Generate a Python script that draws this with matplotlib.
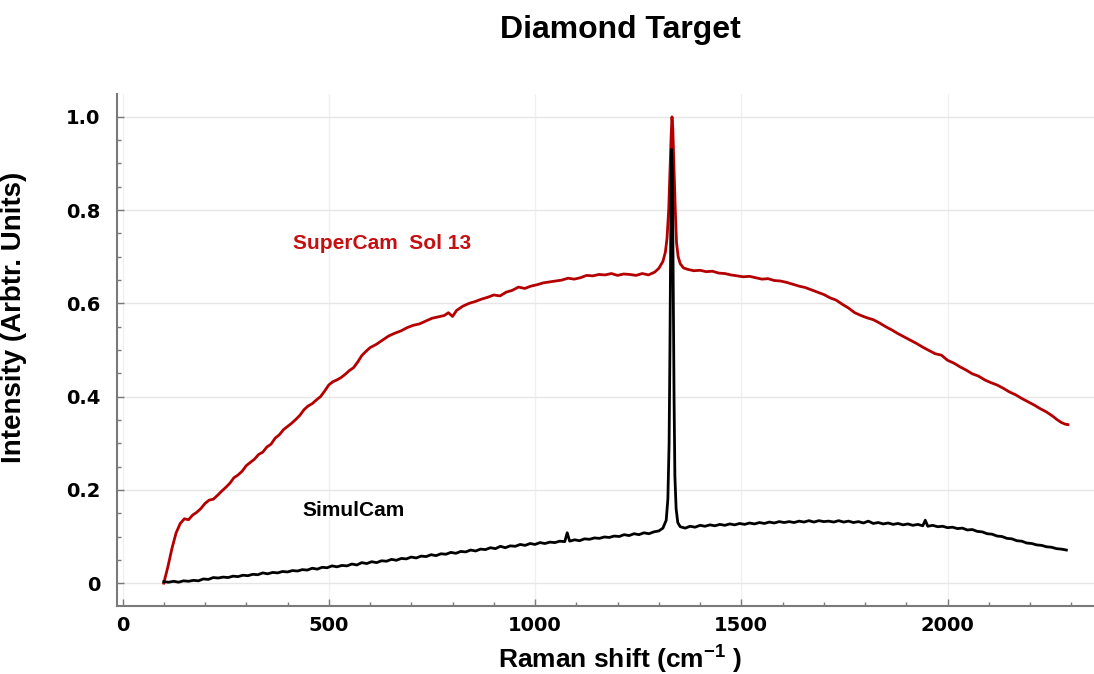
import matplotlib
matplotlib.use("Agg")
import matplotlib.pyplot as plt
from matplotlib.ticker import MultipleLocator

plt.rcParams['font.family'] = ['Liberation Sans', 'DejaVu Sans']
plt.rcParams['mathtext.fontset'] = 'custom'
plt.rcParams['mathtext.rm'] = 'Liberation Sans:bold'
plt.rcParams['mathtext.bf'] = 'Liberation Sans:bold'

# SuperCam Sol 13 spectrum (red)
supercam_x = [100, 110, 120, 130, 140, 150, 160, 170, 180, 190, 200, 210, 220, 230, 240,
              250, 260, 270, 280, 290, 300, 310, 320, 330, 340, 350, 360, 370, 380, 390,
              400, 410, 420, 430, 440, 450, 460, 470, 480, 490, 500, 510, 520, 530, 540,
              550, 560, 570, 580, 590, 600, 615, 630, 645, 660, 675, 690, 705, 720, 735,
              750, 765, 780, 790, 800, 810, 825, 840, 855, 870, 885, 900, 915, 930, 945,
              960, 975, 990, 1005, 1020, 1035, 1050, 1065, 1080, 1095, 1110, 1125, 1140,
              1155, 1170, 1185, 1200, 1215, 1230, 1245, 1260, 1275, 1290, 1300, 1310,
              1316, 1320, 1324, 1327, 1330, 1332, 1334, 1337, 1340, 1343, 1347, 1352,
              1360, 1370, 1385, 1400, 1415, 1430, 1445, 1460, 1475, 1490, 1505, 1520,
              1535, 1550, 1565, 1580, 1595, 1610, 1625, 1640, 1655, 1670, 1685, 1700,
              1715, 1730, 1745, 1760, 1775, 1790, 1805, 1820, 1835, 1850, 1865, 1880,
              1895, 1910, 1925, 1940, 1955, 1970, 1985, 2000, 2015, 2030, 2045, 2060,
              2075, 2090, 2105, 2120, 2135, 2150, 2165, 2180, 2195, 2210, 2225, 2240,
              2255, 2265, 2275, 2285, 2292]
supercam_y = [0.000, 0.035, 0.075, 0.108, 0.128, 0.138, 0.136, 0.146, 0.152, 0.160, 0.171,
              0.178, 0.180, 0.188, 0.197, 0.205, 0.214, 0.226, 0.232, 0.240, 0.252, 0.259,
              0.266, 0.276, 0.281, 0.292, 0.298, 0.311, 0.318, 0.329, 0.336, 0.343, 0.351,
              0.360, 0.372, 0.380, 0.385, 0.393, 0.400, 0.412, 0.425, 0.432, 0.436, 0.441,
              0.448, 0.456, 0.462, 0.474, 0.488, 0.497, 0.505, 0.512, 0.521, 0.530, 0.536,
              0.541, 0.548, 0.553, 0.556, 0.562, 0.568, 0.571, 0.574, 0.580, 0.572, 0.585,
              0.594, 0.600, 0.604, 0.609, 0.613, 0.618, 0.616, 0.624, 0.628, 0.635, 0.632,
              0.637, 0.640, 0.644, 0.646, 0.648, 0.650, 0.654, 0.652, 0.655, 0.660, 0.659,
              0.662, 0.661, 0.664, 0.660, 0.663, 0.662, 0.660, 0.664, 0.661, 0.667, 0.675,
              0.690, 0.710, 0.740, 0.800, 0.880, 0.960, 1.000, 0.975, 0.890, 0.800, 0.730,
              0.700, 0.685, 0.676, 0.673, 0.670, 0.671, 0.668, 0.669, 0.665, 0.664, 0.661,
              0.659, 0.657, 0.658, 0.655, 0.652, 0.653, 0.649, 0.648, 0.645, 0.641, 0.637,
              0.634, 0.629, 0.624, 0.619, 0.612, 0.607, 0.598, 0.590, 0.580, 0.574, 0.569,
              0.565, 0.558, 0.550, 0.543, 0.535, 0.528, 0.521, 0.514, 0.506, 0.499, 0.492,
              0.489, 0.478, 0.472, 0.464, 0.457, 0.449, 0.444, 0.436, 0.430, 0.425, 0.418,
              0.410, 0.404, 0.396, 0.389, 0.382, 0.374, 0.367, 0.358, 0.351, 0.345, 0.341,
              0.340]

# SimulCam spectrum (black)
simulcam_x = [100, 112, 124, 136, 148, 160, 172, 184, 196, 208, 220, 232, 244, 256, 268,
              280, 292, 304, 316, 328, 340, 352, 364, 376, 388, 400, 412, 424, 436, 448,
              460, 472, 484, 496, 508, 520, 532, 544, 556, 568, 580, 592, 604, 616, 628,
              640, 652, 664, 676, 688, 700, 712, 724, 736, 748, 760, 772, 784, 796, 808,
              820, 832, 844, 856, 868, 880, 892, 904, 916, 928, 940, 952, 964, 976, 988,
              1000, 1012, 1024, 1036, 1048, 1060, 1072, 1078, 1084, 1096, 1108, 1120,
              1132, 1144, 1156, 1168, 1180, 1192, 1204, 1216, 1228, 1240, 1252, 1264,
              1276, 1288, 1300, 1310, 1318, 1322, 1325, 1327, 1329, 1331, 1333, 1335,
              1337, 1339, 1342, 1346, 1352, 1364, 1376, 1388, 1400, 1412, 1424, 1436,
              1448, 1460, 1472, 1484, 1496, 1508, 1520, 1532, 1544, 1556, 1568, 1580,
              1592, 1604, 1616, 1628, 1640, 1652, 1664, 1676, 1688, 1700, 1712, 1724,
              1736, 1748, 1760, 1772, 1784, 1796, 1808, 1820, 1832, 1844, 1856, 1868,
              1880, 1892, 1904, 1916, 1928, 1940, 1946, 1952, 1964, 1976, 1988, 2000,
              2012, 2024, 2036, 2048, 2060, 2072, 2084, 2096, 2108, 2120, 2132, 2144,
              2156, 2168, 2180, 2192, 2204, 2216, 2228, 2240, 2252, 2264, 2276, 2288]
simulcam_y = [0.003, 0.002, 0.004, 0.002, 0.005, 0.004, 0.006, 0.005, 0.009, 0.008, 0.012,
              0.011, 0.013, 0.012, 0.015, 0.014, 0.017, 0.016, 0.019, 0.018, 0.022, 0.020,
              0.023, 0.022, 0.025, 0.024, 0.027, 0.026, 0.029, 0.028, 0.032, 0.030, 0.034,
              0.033, 0.037, 0.035, 0.038, 0.037, 0.041, 0.039, 0.044, 0.042, 0.046, 0.044,
              0.048, 0.047, 0.051, 0.049, 0.053, 0.052, 0.056, 0.054, 0.058, 0.057, 0.061,
              0.059, 0.063, 0.062, 0.066, 0.064, 0.068, 0.067, 0.071, 0.069, 0.073, 0.072,
              0.076, 0.074, 0.079, 0.076, 0.080, 0.079, 0.083, 0.081, 0.085, 0.083, 0.087,
              0.085, 0.088, 0.087, 0.090, 0.089, 0.108, 0.090, 0.093, 0.091, 0.095, 0.094,
              0.097, 0.096, 0.099, 0.098, 0.101, 0.100, 0.104, 0.102, 0.106, 0.104, 0.108,
              0.106, 0.110, 0.112, 0.118, 0.135, 0.180, 0.300, 0.500, 0.750, 0.930, 0.880,
              0.650, 0.400, 0.230, 0.160, 0.130, 0.121, 0.118, 0.122, 0.120, 0.124, 0.122,
              0.125, 0.123, 0.126, 0.124, 0.127, 0.125, 0.128, 0.126, 0.129, 0.127, 0.130,
              0.128, 0.131, 0.129, 0.132, 0.130, 0.132, 0.130, 0.133, 0.131, 0.134, 0.131,
              0.134, 0.132, 0.133, 0.131, 0.134, 0.131, 0.133, 0.130, 0.132, 0.129, 0.133,
              0.128, 0.130, 0.127, 0.129, 0.126, 0.128, 0.125, 0.127, 0.124, 0.126, 0.123,
              0.135, 0.122, 0.124, 0.121, 0.122, 0.119, 0.120, 0.117, 0.118, 0.114, 0.115,
              0.111, 0.110, 0.106, 0.105, 0.101, 0.100, 0.096, 0.095, 0.091, 0.090, 0.086,
              0.085, 0.082, 0.081, 0.078, 0.077, 0.074, 0.073, 0.071]

fig = plt.figure(figsize=(10.94, 6.74), dpi=100)
ax = fig.add_axes([0.1067, 0.1009, 0.8933, 0.7596])

ax.plot(supercam_x, supercam_y, color='#b40000', lw=2.0, zorder=3)
ax.plot(simulcam_x, simulcam_y, color='black', lw=2.0, zorder=4)

ax.set_xlim(-14, 2355)
ax.set_ylim(-0.049, 1.049)

ax.xaxis.set_major_locator(MultipleLocator(500))
ax.xaxis.set_minor_locator(MultipleLocator(100))
ax.yaxis.set_minor_locator(MultipleLocator(0.05))
ax.set_yticks([0, 0.2, 0.4, 0.6, 0.8, 1.0], ['0', '0.2', '0.4', '0.6', '0.8', '1.0'])

ax.yaxis.grid(True, which='major', color='#e6e6e6', lw=1.0, zorder=0)
ax.xaxis.grid(True, which='major', color='#f0f0f0', lw=1.0, zorder=0)
for side in ['top', 'right']:
    ax.spines[side].set_visible(False)
for side in ['left', 'bottom']:
    ax.spines[side].set_color('#7a7a7a')
    ax.spines[side].set_linewidth(1.5)

ax.tick_params(which='both', direction='in', colors='#7a7a7a', labelcolor='black')
ax.tick_params(which='major', length=5, width=1)
ax.tick_params(which='minor', length=3, width=1)
ax.tick_params(axis='y', pad=12)
ax.tick_params(axis='x', pad=7)
for lbl in ax.get_xticklabels() + ax.get_yticklabels():
    lbl.set_fontfamily('DejaVu Sans')
    lbl.set_fontsize(14)
    lbl.set_fontweight('bold')

ax.set_ylabel('Intensity (Arbtr. Units)', fontsize=20, fontweight='bold')
ax.yaxis.set_label_coords(-0.092, 0.564)

fig.text(0.567, 0.0089, 'Raman shift (cm$^{-1}$ )', ha='center', va='baseline',
         fontsize=19, fontweight='bold')
fig.text(0.567, 0.955, 'Diamond Target', ha='center', va='center',
         fontsize=23, fontweight='bold')

ax.text(413, 0.716, 'SuperCam  Sol 13', color='#c41010', fontsize=15,
        fontweight='bold', va='baseline')
ax.text(437, 0.144, 'SimulCam', color='black', fontsize=15,
        fontweight='bold', va='baseline')

fig.savefig('out.png', dpi=100)
